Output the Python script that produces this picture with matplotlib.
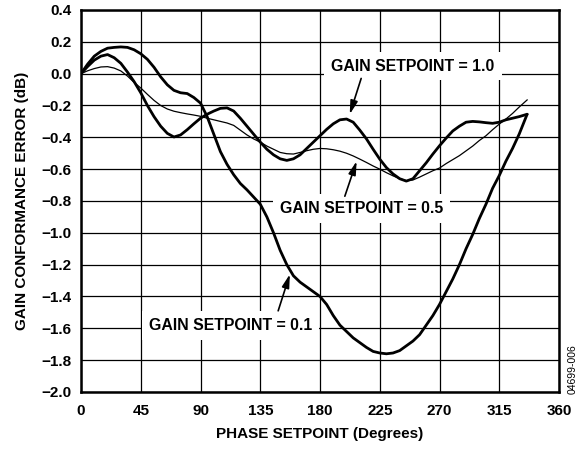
import matplotlib
matplotlib.use("Agg")
import matplotlib.pyplot as plt

plt.rcParams['font.family'] = ['Liberation Sans', 'DejaVu Sans']

phase = [0, 5, 10, 15, 20, 25, 30, 35, 40, 45, 50, 55, 60, 65, 70, 75, 80, 85, 90,
         95, 100, 105, 110, 115, 120, 125, 130, 135, 140, 145, 150, 155, 160, 165,
         170, 175, 180, 185, 190, 195, 200, 205, 210, 215, 220, 225, 230, 235, 240,
         245, 250, 255, 260, 265, 270, 275, 280, 285, 290, 295, 300, 305, 310, 315,
         320, 325, 330, 336]

gain_01 = [0, 0.06, 0.11, 0.14, 0.16, 0.165, 0.168, 0.165, 0.15, 0.125, 0.09, 0.04,
           -0.02, -0.07, -0.105, -0.12, -0.125, -0.15, -0.185, -0.27, -0.38, -0.49,
           -0.57, -0.635, -0.69, -0.73, -0.775, -0.82, -0.90, -1.0, -1.11, -1.2,
           -1.27, -1.31, -1.34, -1.37, -1.40, -1.45, -1.52, -1.58, -1.62, -1.66,
           -1.69, -1.72, -1.745, -1.755, -1.76, -1.755, -1.74, -1.71, -1.68, -1.64,
           -1.58, -1.52, -1.45, -1.37, -1.29, -1.20, -1.10, -1.01, -0.91, -0.82,
           -0.72, -0.64, -0.55, -0.47, -0.38, -0.255]

gain_10 = [0, 0.045, 0.085, 0.11, 0.12, 0.10, 0.065, 0.01, -0.05, -0.12, -0.2, -0.27,
           -0.33, -0.375, -0.398, -0.385, -0.352, -0.315, -0.28, -0.255, -0.235,
           -0.218, -0.215, -0.235, -0.28, -0.33, -0.38, -0.43, -0.475, -0.51,
           -0.535, -0.545, -0.535, -0.51, -0.47, -0.43, -0.39, -0.35, -0.315, -0.29,
           -0.285, -0.305, -0.355, -0.41, -0.475, -0.537, -0.59, -0.63, -0.66,
           -0.675, -0.66, -0.61, -0.56, -0.505, -0.453, -0.405, -0.36, -0.33,
           -0.305, -0.3, -0.303, -0.308, -0.312, -0.305, -0.29, -0.28, -0.27, -0.255]

gain_05 = [0, 0.018, 0.032, 0.042, 0.044, 0.035, 0.017, -0.015, -0.055, -0.09, -0.13,
           -0.168, -0.2, -0.222, -0.236, -0.245, -0.253, -0.26, -0.268, -0.28, -0.29,
           -0.30, -0.31, -0.325, -0.355, -0.385, -0.41, -0.43, -0.455, -0.475,
           -0.495, -0.503, -0.505, -0.495, -0.484, -0.475, -0.47, -0.472, -0.478,
           -0.487, -0.5, -0.517, -0.537, -0.558, -0.58, -0.6, -0.622, -0.642, -0.66,
           -0.672, -0.668, -0.65, -0.63, -0.61, -0.593, -0.565, -0.54, -0.515,
           -0.485, -0.455, -0.42, -0.39, -0.352, -0.317, -0.285, -0.25, -0.21, -0.165]

x_ticks = [0, 45, 90, 135, 180, 225, 270, 315, 360]
y_ticks = [0.4, 0.2, 0.0, -0.2, -0.4, -0.6, -0.8, -1.0, -1.2, -1.4, -1.6, -1.8, -2.0]
y_tick_labels = ['0.4', '0.2', '0.0', '\u22120.2', '\u22120.4', '\u22120.6', '\u22120.8',
                 '\u22121.0', '\u22121.2', '\u22121.4', '\u22121.6', '\u22121.8', '\u22122.0']

FS = 11

fig = plt.figure(figsize=(5.84, 4.5), dpi=100)
ax = fig.add_axes([0.1387, 0.1289, 0.8185, 0.8489])

ax.plot(phase, gain_01, color='black', lw=2.0, zorder=3, solid_capstyle='round')
ax.plot(phase, gain_10, color='black', lw=2.0, zorder=3, solid_capstyle='round')
ax.plot(phase, gain_05, color='black', lw=0.9, zorder=3)

ax.set_xlim(0, 360)
ax.set_ylim(-2.0, 0.4)
ax.set_xticks(x_ticks)
ax.set_yticks(y_ticks)
ax.set_yticklabels(y_tick_labels)
ax.grid(True, color='black', lw=0.9, zorder=1)
ax.set_axisbelow(True)
ax.tick_params(axis='y', length=0, labelsize=FS, pad=7)
ax.tick_params(axis='x', length=0, labelsize=FS, pad=9)
for lab in ax.get_xticklabels() + ax.get_yticklabels():
    lab.set_fontweight('bold')
for sp in ax.spines.values():
    sp.set_linewidth(1.8)

ax.set_xlabel('PHASE SETPOINT (Degrees)', fontsize=FS, fontweight='bold', labelpad=6)
ax.set_ylabel('GAIN CONFORMANCE ERROR (dB)', fontsize=FS, fontweight='bold', labelpad=9)

box = dict(facecolor='white', edgecolor='none', pad=5)
arrow = dict(arrowstyle='-|>,head_length=0.8,head_width=0.22', color='black', lw=1.2,
             shrinkA=0, shrinkB=0)

AFS = 11.4
ax.text(250, 0.048, 'GAIN SETPOINT = 1.0', fontsize=AFS, fontweight='bold',
        ha='center', va='center', bbox=box, zorder=4)
ax.annotate('', xy=(202.4, -0.255), xytext=(211, -0.03), arrowprops=arrow, zorder=4)

ax.text(211.5, -0.848, 'GAIN SETPOINT = 0.5', fontsize=AFS, fontweight='bold',
        ha='center', va='center', bbox=box, zorder=4)
ax.annotate('', xy=(207.6, -0.55), xytext=(198.7, -0.77), arrowprops=arrow, zorder=4)

ax.text(112.5, -1.582, 'GAIN SETPOINT = 0.1', fontsize=AFS, fontweight='bold',
        ha='center', va='center', bbox=box, zorder=4)
ax.annotate('', xy=(157.3, -1.26), xytext=(148.5, -1.49), arrowprops=arrow, zorder=4)

fig.text(0.980, 0.18, '04699-006', rotation=90, fontsize=7.5, ha='center', va='center')

fig.savefig('out.png', dpi=100)
